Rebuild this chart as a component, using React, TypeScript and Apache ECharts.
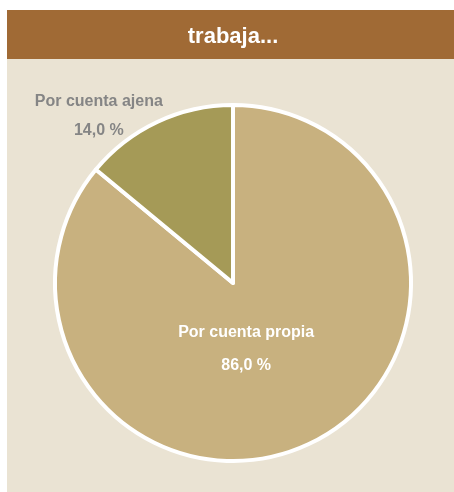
import React, { useEffect, useRef } from "react";
import * as echarts from "echarts";

const titleText = "trabaja...";
const categories = ["Por cuenta propia", "Por cuenta ajena"];
const values = [86.0, 14.0];
const colors = ["#C8B17F", "#A59A57"];

const FONT = '"Liberation Sans Narrow", "Arial Narrow", "Liberation Sans", Arial, sans-serif';

export default function App() {
  const ref = useRef<HTMLDivElement>(null);
  useEffect(() => {
    if (!ref.current) return;
    const chart = echarts.init(ref.current, undefined, { renderer: "svg" });
    const fmt = (v: number) => v.toFixed(1).replace(".", ",") + " %";
    chart.setOption({
      animation: false,
      graphic: [
        { type: "rect", z: -10, shape: { x: 7, y: 10, width: 447, height: 482 }, style: { fill: "#EAE3D3" } },
        { type: "rect", z: -9, shape: { x: 7, y: 10, width: 447, height: 49 }, style: { fill: "#A06A35" } },
        {
          type: "text",
          z: 10,
          x: 233,
          y: 35,
          style: {
            text: titleText,
            fill: "#FFFFFF",
            font: `bold 22px ${FONT}`,
            textAlign: "center",
            textVerticalAlign: "middle",
          },
        },
      ],
      series: [
        {
          type: "pie",
          center: [233, 283],
          radius: [0, 178],
          startAngle: 90,
          clockwise: true,
          silent: true,
          itemStyle: { borderColor: "#FFFFFF", borderWidth: 4 },
          labelLine: { show: false },
          data: categories.map((c, i) => ({
            name: c,
            value: values[i],
            itemStyle: { color: colors[i] },
            label:
              i === 0
                ? {
                    show: true,
                    position: "inside",
                    offset: [-26, -18],
                    formatter: () => `{a|${c}}\n{a|${fmt(values[i])}}`,
                    rich: { a: { color: "#FFFFFF", fontFamily: FONT, fontWeight: "bold", fontSize: 16, lineHeight: 33, align: "center" } },
                  }
                : {
                    show: true,
                    position: "inside",
                    offset: [-95, -85],
                    formatter: () => `{a|${c}}\n{a|${fmt(values[i])}}`,
                    rich: { a: { color: "#858585", fontFamily: FONT, fontWeight: "bold", fontSize: 16, lineHeight: 29, align: "center" } },
                  },
          })),
        },
      ],
    });
    return () => chart.dispose();
  }, []);
  return <div ref={ref} style={{ position: "fixed", left: 0, top: 0, width: 454, height: 492 }} />;
}
